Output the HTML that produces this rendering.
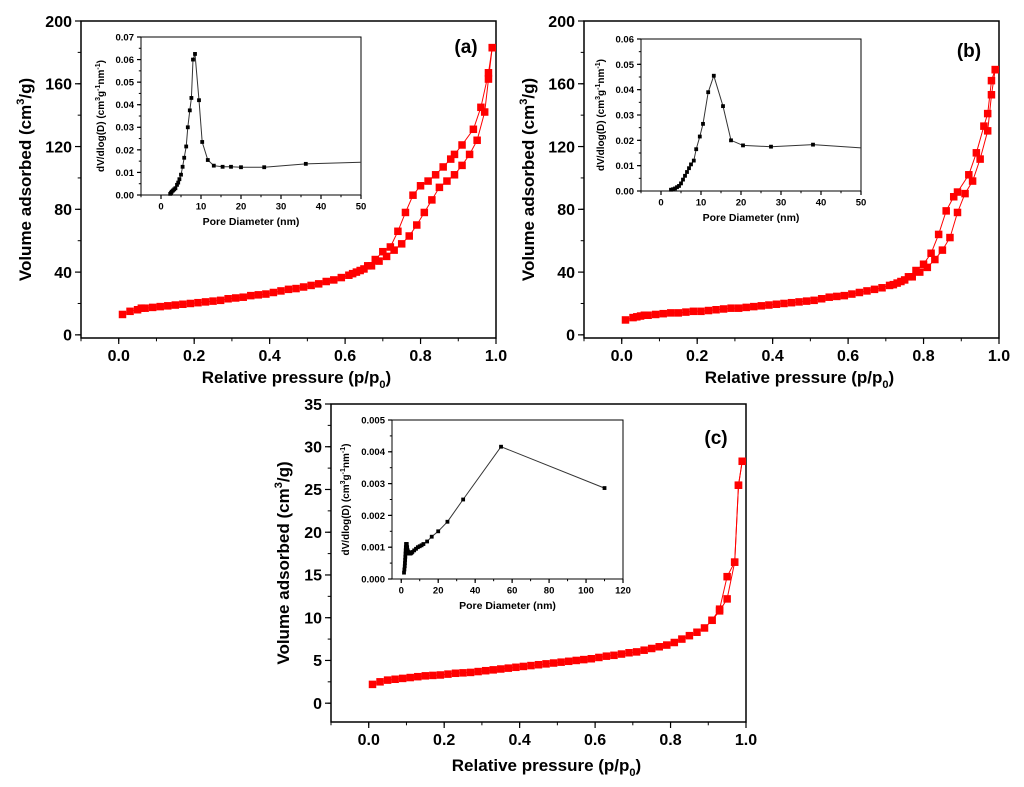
<!DOCTYPE html>
<html><head><meta charset="utf-8">
<style>
html,body{margin:0;padding:0;background:#fff;}
svg{display:block;font-family:"Liberation Sans",Arial,sans-serif;font-weight:bold;}
</style></head>
<body>
<svg id="fig" width="1024" height="787" viewBox="0 0 1024 787"></svg>
<script>
// ---- Panel (a) data ----
const aAdsX=[0.01,0.03,0.05,0.06,0.07,0.09,0.11,0.13,0.15,0.17,0.19,0.21,0.23,0.25,0.27,0.29,0.31,0.33,0.35,0.37,0.39,0.41,0.43,0.45,0.47,0.49,0.51,0.53,0.55,0.57,0.59,0.61,0.63,0.65,0.67,0.69,0.71,0.73,0.75,0.77,0.79,0.81,0.83,0.85,0.87,0.89,0.91,0.93,0.95,0.97,0.98,0.99];
const aAdsY=[13,15,16,17,17,17.5,18,18.5,19,19.5,20,20.5,21,21.5,22,23,23.5,24,25,25.5,26,27,28,29,29.5,30.5,31.5,32.5,34,35,36.5,38,40,42,44,47,50,54,58,63,70,78,86,94,98,102,108,115,124,142,163,183];
const aDesX=[0.99,0.98,0.96,0.94,0.91,0.89,0.88,0.86,0.84,0.82,0.80,0.78,0.76,0.74,0.72,0.70,0.68,0.66,0.64,0.62];
const aDesY=[183,167,145,131,121,115,112,107,102,98,95,89,78,66,56,53,48,44,41,39];
const aInsX=[2.3,2.5,2.7,3,3.3,3.6,4,4.3,4.6,5,5.4,5.8,6.3,6.7,7.2,7.6,8,8.5,9.5,10.3,11.7,13.2,15.4,17.5,20,25.8,36.2];
const aInsY=[0.0005,0.001,0.0015,0.002,0.0025,0.003,0.0045,0.0055,0.007,0.009,0.0125,0.0165,0.0215,0.030,0.0375,0.043,0.060,0.0625,0.042,0.0235,0.0155,0.013,0.0125,0.0125,0.0123,0.0123,0.0138];
const aInsTailX=[50]; const aInsTailY=[0.0145];
// ---- Panel (b) data ----
const bAdsX=[0.01,0.03,0.04,0.05,0.06,0.07,0.09,0.11,0.13,0.15,0.17,0.19,0.21,0.23,0.25,0.27,0.29,0.31,0.33,0.35,0.37,0.39,0.41,0.43,0.45,0.47,0.49,0.51,0.53,0.55,0.57,0.59,0.61,0.63,0.65,0.67,0.69,0.71,0.73,0.75,0.77,0.79,0.81,0.83,0.85,0.87,0.89,0.91,0.93,0.95,0.97,0.98,0.99];
const bAdsY=[9.5,11,11.5,12,12.5,12.5,13,13.5,14,14,14.5,15,15,15.5,16,16.5,17,17,17.5,18,18.5,19,19.5,20,20.5,21,21.5,22,23,24,24.5,25,26,27,28,29,30,31.5,33,35,37,40,43,48,54,62,78,90,98,112,130,153,169];
const bDesX=[0.99,0.98,0.97,0.96,0.94,0.92,0.89,0.88,0.86,0.84,0.82,0.80,0.78,0.76,0.74,0.72];
const bDesY=[169,162,141,133,116,102,91,88,79,64,52,45,41,37,34,32];
const bInsX=[2.5,3,3.5,4,4.5,5,5.5,6,6.5,7,7.5,8.2,8.8,9.7,10.5,11.8,13.2,15.5,17.5,20.5,27.5,38];
const bInsY=[0.0005,0.0007,0.001,0.0015,0.002,0.003,0.0045,0.006,0.0075,0.009,0.0105,0.012,0.0165,0.0215,0.0265,0.039,0.0455,0.0335,0.020,0.018,0.0175,0.0183];
const bInsTailX=[50]; const bInsTailY=[0.017];
// ---- Panel (c) data ----
const cAdsX=[0.01,0.03,0.05,0.07,0.09,0.11,0.13,0.15,0.17,0.19,0.21,0.23,0.25,0.27,0.29,0.31,0.33,0.35,0.37,0.39,0.41,0.43,0.45,0.47,0.49,0.51,0.53,0.55,0.57,0.59,0.61,0.63,0.65,0.67,0.69,0.71,0.73,0.75,0.77,0.79,0.81,0.83,0.85,0.87,0.89,0.91,0.93,0.95,0.97,0.98,0.99];
const cAdsY=[2.2,2.5,2.7,2.8,2.9,3.0,3.1,3.2,3.25,3.3,3.4,3.5,3.55,3.6,3.7,3.8,3.9,4.0,4.1,4.2,4.3,4.4,4.5,4.6,4.7,4.8,4.9,5.0,5.1,5.2,5.35,5.5,5.6,5.75,5.9,6.0,6.2,6.4,6.6,6.8,7.1,7.5,7.9,8.3,8.8,9.7,11,14.8,16.5,25.5,28.3];
const cDesX=[0.99,0.98,0.97,0.95,0.93,0.91];
const cDesY=[28.3,25.5,16.5,12.2,10.8,9.7];
const cInsX=[1.5,1.7,1.9,2,2.1,2.2,2.3,2.4,2.5,2.6,2.8,3,3.2,3.5,3.8,4,4.5,5,5.5,6,7,8,9,10,11,12,14,16.5,20,25,33.5,54,110];
const cInsY=[0.0002,0.0003,0.0004,0.0005,0.0006,0.0007,0.0008,0.0009,0.001,0.0011,0.0011,0.0011,0.001,0.0009,0.00085,0.0008,0.0008,0.0008,0.00082,0.00085,0.0009,0.00095,0.001,0.00103,0.00106,0.0011,0.00118,0.00133,0.0015,0.0018,0.0025,0.00416,0.00286];
const cInsTailX=[]; const cInsTailY=[];
// tick labels
const mainXTicks=["0.0","0.2","0.4","0.6","0.8","1.0"];
const abYTicks=["0","40","80","120","160","200"];
const cYTicks=["0","5","10","15","20","25","30","35"];
const aInsYTicks=["0.00","0.01","0.02","0.03","0.04","0.05","0.06","0.07"];
const bInsYTicks=["0.00","0.01","0.02","0.03","0.04","0.05","0.06"];
const cInsYTicks=["0.000","0.001","0.002","0.003","0.004","0.005"];
const abInsXTicks=["0","10","20","30","40","50"];
const cInsXTicks=["0","20","40","60","80","100","120"];

const NS="http://www.w3.org/2000/svg";
const svg=document.getElementById('fig');
function mk(tag,attrs,parent,text){const e=document.createElementNS(NS,tag);for(const k in attrs)e.setAttribute(k,attrs[k]);if(text!==undefined)e.textContent=text;(parent||svg).appendChild(e);return e;}

function axes(g,o){
  const sx=v=>o.L+(v-o.xmin)/(o.xmax-o.xmin)*(o.R-o.L);
  const sy=v=>o.B-(v-o.ymin)/(o.ymax-o.ymin)*(o.B-o.T);
  const frame=mk('rect',{x:o.L,y:o.T,width:o.R-o.L,height:o.B-o.T,fill:'none',stroke:'#000','stroke-width':o.sw},g);
  
  
  const xt=o.xticks.map(Number), yt=o.yticks.map(Number);
  const xstep=xt[1]-xt[0], ystep=yt[1]-yt[0];
  for(let v=xt[0]-xstep;v<=o.xmax+1e-9;v+=xstep/o.xminor){if(v<o.xmin-1e-9)continue;mk('line',{x1:sx(v),x2:sx(v),y1:o.B,y2:o.B+o.tl*0.55,stroke:'#000','stroke-width':1},g);}
  for(let v=yt[0]-ystep;v<=o.ymax+1e-9;v+=ystep/o.yminor){if(v<o.ymin-1e-9)continue;mk('line',{x1:o.L,x2:o.L-o.tl*0.55,y1:sy(v),y2:sy(v),stroke:'#000','stroke-width':1},g);}
  o.xticks.forEach(t=>{const v=Number(t);mk('line',{x1:sx(v),x2:sx(v),y1:o.B,y2:o.B+o.tl,stroke:'#000','stroke-width':1.2},g);
    const tx=mk('text',{x:sx(v),y:o.B+o.tl+o.fs+1,'font-size':o.fs,'text-anchor':'middle'},g,t);
    });
  o.yticks.forEach(t=>{const v=Number(t);mk('line',{x1:o.L,x2:o.L-o.tl,y1:sy(v),y2:sy(v),stroke:'#000','stroke-width':1.2},g);
    const tx=mk('text',{x:o.L-o.tl-3,y:sy(v)+o.fs*0.36,'font-size':o.fs,'text-anchor':'end'},g,t);
    });
  return {sx,sy};
}
function series(g,s,xs,ys,color,size,name,tailX,tailY){
  const pts=xs.map((x,i)=>s.sx(x).toFixed(1)+','+s.sy(ys[i]).toFixed(1));
  (tailX||[]).forEach((x,i)=>pts.push(s.sx(x).toFixed(1)+','+s.sy(tailY[i]).toFixed(1)));
  const pl=mk('polyline',{points:pts.join(' '),fill:'none',stroke:color==='#f00'?'#f00':'#333','stroke-width':1},g);
  
  
  xs.forEach((x,i)=>{const r=mk('rect',{x:s.sx(x)-size/2,y:s.sy(ys[i])-size/2,width:size,height:size,fill:color},g);
    
    });
}
function panel(p){
  const g=mk('g',{});
  
  
  const s=axes(g,{name:'panel-'+p.id,L:p.L,R:p.R,T:p.T,B:p.B,xmin:-0.1,xmax:1.0,ymin:p.ymin,ymax:p.ymax,xticks:mainXTicks,yticks:p.yticks,xminor:2,yminor:2,fs:16,tl:6,sw:1.5});
  series(g,s,p.desX,p.desY,'#f00',7.5,'desorption-'+p.id);
  series(g,s,p.adsX,p.adsY,'#f00',7.5,'adsorption-'+p.id);
  const lab=mk('text',{x:p.R-30,y:p.T+p.labY,'font-size':19,'text-anchor':'middle'},g,'('+p.id+')');
  
  const cx=(p.L+p.R)/2;
  const xt=mk('text',{x:cx+8,y:p.B+p.xtOff,'font-size':17,'text-anchor':'middle'},g);
  
  xt.innerHTML='Relative pressure (p/p<tspan font-size="11" dy="5">0</tspan><tspan dy="-5">)</tspan>';
  const cy=(p.T+p.B)/2;
  const yt=mk('text',{x:0,y:0,'font-size':17,'text-anchor':'middle',transform:`translate(${p.L-p.ytOff},${cy}) rotate(-90)`},g);
  
  yt.innerHTML='Volume adsorbed (cm<tspan font-size="11" dy="-7">3</tspan><tspan dy="7">/g)</tspan>';
  const ig=mk('g',{},g);
  
  
  const I=p.inset;
  const si=axes(ig,{name:'inset-'+p.id,L:I.L,R:I.R,T:I.T,B:I.B,xmin:-5,xmax:I.xmax,ymin:0,ymax:I.ymax,xticks:I.xticks,yticks:I.yticks,xminor:2,yminor:2,fs:9.5,tl:4,sw:1});
  series(ig,si,I.xs,I.ys,'#000',3.8,'pore-distribution-'+p.id,I.tx,I.ty);
  const ixt=mk('text',{x:(I.L+I.R)/2,y:I.B+30,'font-size':10.5,'text-anchor':'middle'},ig,'Pore Diameter (nm)');
  
  const iyt=mk('text',{x:0,y:0,'font-size':10,'text-anchor':'middle',transform:`translate(${I.L-I.ytOff},${(I.T+I.B)/2}) rotate(-90)`},ig);
  
  iyt.innerHTML='dV/dlog(D) (cm<tspan font-size="7" dy="-4">3</tspan><tspan dy="4">g</tspan><tspan font-size="7" dy="-4">-1</tspan><tspan dy="4">nm</tspan><tspan font-size="7" dy="-4">-1</tspan><tspan dy="4">)</tspan>';
}
panel({id:'a',L:81,R:496,T:21,B:338,ymin:-2,ymax:200,yticks:abYTicks,adsX:aAdsX,adsY:aAdsY,desX:aDesX,desY:aDesY,labY:32,ytOff:50,xtOff:45,
  inset:{L:141,R:361,T:37,B:195,xmax:50,ymax:0.07,xticks:abInsXTicks,yticks:aInsYTicks,xs:aInsX,ys:aInsY,tx:aInsTailX,ty:aInsTailY,ytOff:37}});
panel({id:'b',L:584,R:999,T:21,B:338,ymin:-2,ymax:200,yticks:abYTicks,adsX:bAdsX,adsY:bAdsY,desX:bDesX,desY:bDesY,labY:36,ytOff:50,xtOff:45,
  inset:{L:641,R:861,T:39,B:191,xmax:50,ymax:0.06,xticks:abInsXTicks,yticks:bInsYTicks,xs:bInsX,ys:bInsY,tx:bInsTailX,ty:bInsTailY,ytOff:37}});
panel({id:'c',L:331,R:746,T:404,B:722,ymin:-2.2,ymax:35,yticks:cYTicks,adsX:cAdsX,adsY:cAdsY,desX:cDesX,desY:cDesY,labY:40,ytOff:42,xtOff:49,
  inset:{L:392,R:623,T:420,B:579,xmax:120,ymax:0.005,xticks:cInsXTicks,yticks:cInsYTicks,xs:cInsX,ys:cInsY,tx:cInsTailX,ty:cInsTailY,ytOff:43}});
</script>
</body></html>
